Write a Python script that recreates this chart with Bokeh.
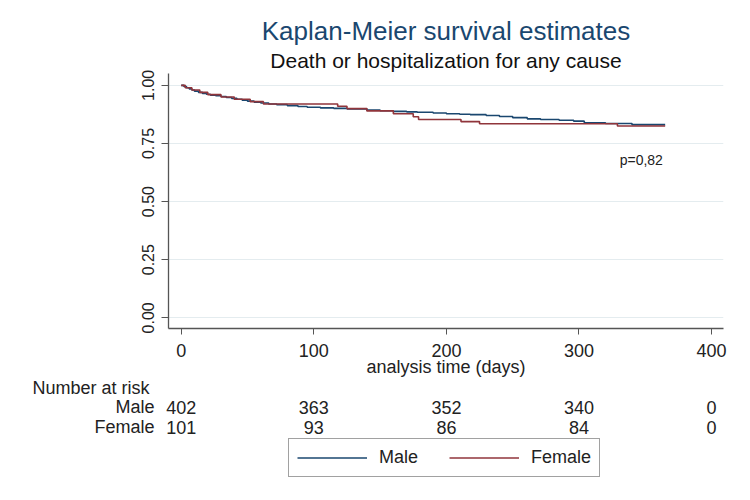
import math
from bokeh.plotting import figure
from bokeh.models import (Range1d, FixedTicker, PrintfTickFormatter, Title, Label,
                          Legend, LegendItem)
from bokeh.embed import file_html
from bokeh.resources import INLINE
from bokeh.core.properties import value

# ---------------- data ----------------
title_text = "Kaplan-Meier survival estimates"
subtitle_text = "Death or hospitalization for any cause"
x_label = "analysis time (days)"
group_names = ["Male", "Female"]

male_time = [0, 2, 4, 6, 8, 10, 13, 16, 19, 22, 26, 30, 34, 38, 42, 46, 50, 55, 60,
             66, 72, 80, 88, 95, 105, 115, 125, 140, 150, 160, 170, 178, 190, 200,
             210, 218, 230, 240, 250, 261, 271, 285, 296, 304, 320, 340, 365]
male_surv = [1.0, 0.995, 0.990, 0.985, 0.980, 0.975, 0.970, 0.965, 0.962, 0.958,
             0.955, 0.952, 0.948, 0.944, 0.940, 0.936, 0.932, 0.928, 0.924, 0.920,
             0.917, 0.913, 0.909, 0.906, 0.903, 0.901, 0.899, 0.894, 0.891, 0.888,
             0.886, 0.884, 0.881, 0.878, 0.876, 0.874, 0.870, 0.866, 0.861, 0.856,
             0.853, 0.850, 0.846, 0.839, 0.836, 0.831, 0.831]

female_time = [0, 3, 8, 14, 20, 30, 40, 52, 62, 118, 125, 140, 160, 175, 179, 211,
               225, 329, 365]
female_surv = [1.0, 0.99, 0.98, 0.97, 0.96, 0.95, 0.94, 0.93, 0.92, 0.91, 0.90,
               0.89, 0.878, 0.865, 0.853, 0.844, 0.835, 0.825, 0.825]

x_ticks = [0, 100, 200, 300, 400]
y_ticks = [0.0, 0.25, 0.50, 0.75, 1.00]

risk_header = "Number at risk"
risk_times = [0, 100, 200, 300, 400]
risk_male = [402, 363, 352, 340, 0]
risk_female = [101, 93, 86, 84, 0]

p_value_text = "p=0,82"
p_value_pos = (347, 0.677)

# ---------------- style / layout ----------------
FONT = "Liberation Sans"
MALE_COLOR = "#1a476f"
FEMALE_COLOR = "#90353b"
TEXT_COLOR = "#222222"
AXIS_COLOR = "#555555"

W = 734
H1 = 379
H2 = 105
BL, BR, BT = 168, 11, 73
FRAME_H = 255
BB = H1 - BT - FRAME_H

x0, x1 = -9.6, 409.0
y0, y1 = -0.046, 1.051
kx = (W - BL - BR) / (x1 - x0)       # px per day in the main frame

# ---------------- main plot ----------------
p1 = figure(width=W, height=H1, x_range=Range1d(x0, x1), y_range=Range1d(y0, y1),
            output_backend="svg", toolbar_location=None,
            min_border_left=BL, min_border_right=BR, min_border_top=BT, min_border_bottom=BB)
p1.outline_line_color = None
p1.background_fill_color = "white"
p1.border_fill_color = "white"

p1.title = Title(text=title_text, align="center", text_font=FONT, text_font_size="26px",
                 text_font_style="normal", text_color=MALE_COLOR, standoff=0)
p1.add_layout(Title(text=subtitle_text, align="center", text_font=FONT, text_font_size="21px",
                    text_font_style="normal", text_color="#111111", standoff=3), "above")

p1.step(male_time, male_surv, mode="after", line_color=MALE_COLOR, line_width=1.6)
p1.step(female_time, female_surv, mode="after", line_color=FEMALE_COLOR, line_width=1.6)

xa = p1.xaxis[0]
xa.ticker = FixedTicker(ticks=x_ticks)
xa.axis_label = x_label
xa.axis_label_text_font = FONT
xa.axis_label_text_font_size = "18px"
xa.axis_label_text_font_style = "normal"
xa.axis_label_text_color = TEXT_COLOR
xa.axis_label_standoff = -3
xa.major_label_text_font = FONT
xa.major_label_text_font_size = "18px"
xa.major_label_text_color = TEXT_COLOR
xa.major_label_standoff = 9
xa.major_tick_out = 6
xa.major_tick_in = 0
xa.minor_tick_line_color = None
xa.axis_line_color = AXIS_COLOR
xa.major_tick_line_color = AXIS_COLOR
xa.axis_line_width = 1.3

ya = p1.yaxis[0]
ya.ticker = FixedTicker(ticks=y_ticks)
ya.formatter = PrintfTickFormatter(format="%.2f")
ya.major_label_orientation = "parallel"
ya.major_label_text_font = FONT
ya.major_label_text_font_size = "16px"
ya.major_label_text_color = TEXT_COLOR
ya.major_label_standoff = 7
ya.major_tick_out = 7
ya.major_tick_in = 0
ya.minor_tick_line_color = None
ya.axis_line_color = AXIS_COLOR
ya.major_tick_line_color = AXIS_COLOR
ya.axis_line_width = 1.3

p1.xgrid.visible = False
p1.ygrid.ticker = FixedTicker(ticks=y_ticks)
p1.ygrid.grid_line_color = "#e4ecef"
p1.ygrid.grid_line_width = 1

p1.add_layout(Label(x=p_value_pos[0], y=p_value_pos[1], text=p_value_text,
                    text_align="center", text_baseline="middle", text_font=FONT,
                    text_font_size="14px", text_color=TEXT_COLOR))

# ---------------- number-at-risk table + legend (same day scale) ----------------
x2_start = x0 - BL / kx
x2_end = x1 + BR / kx
p2 = figure(width=W, height=H2, x_range=Range1d(x2_start, x2_end), y_range=Range1d(H2, 0),
            output_backend="svg", toolbar_location=None,
            x_axis_location=None, y_axis_location=None,
            min_border_left=0, min_border_right=0, min_border_top=0, min_border_bottom=0)
p2.outline_line_color = None
p2.grid.visible = False
p2.background_fill_color = "white"
p2.border_fill_color = "white"

row_y_header = 8
row_y_male = 27.7
row_y_female = 47.7
txt = dict(text_baseline="middle", text_font=value(FONT), text_font_size=value("18px"),
           text_color=TEXT_COLOR)

p2.text(x=[x2_start + 32 / kx], y=[row_y_header], text=[risk_header], text_align="left", **txt)
p2.text(x=[x2_start + 154 / kx] * 2, y=[row_y_male, row_y_female], text=group_names,
        text_align="right", **txt)
p2.text(x=risk_times, y=[row_y_male] * len(risk_times), text=[str(v) for v in risk_male],
        text_align="center", **txt)
p2.text(x=risk_times, y=[row_y_female] * len(risk_times), text=[str(v) for v in risk_female],
        text_align="center", **txt)

# legend keys: off-canvas stand-ins carrying the two series' line styles
off_x = [x2_start - 20, x2_start - 10]
off_y = [H2 + 20, H2 + 20]
r_m = p2.line(x=off_x, y=off_y, line_color=MALE_COLOR, line_width=1.4)
r_f = p2.line(x=off_x, y=off_y, line_color=FEMALE_COLOR, line_width=1.4)
legend = Legend(items=[LegendItem(label=group_names[0], renderers=[r_m]),
                       LegendItem(label=group_names[1], renderers=[r_f])],
                orientation="horizontal", location=(288, 7),
                border_line_color="#444444", border_line_width=1,
                background_fill_color="white", background_fill_alpha=1,
                label_text_font=FONT, label_text_font_size="18px",
                label_text_color=TEXT_COLOR,
                glyph_width=70, glyph_height=17, label_height=17,
                label_standoff=12, spacing=31, padding=8, margin=0)
p2.add_layout(legend)

open("out.html", "w").write(file_html([p1, p2], INLINE))
